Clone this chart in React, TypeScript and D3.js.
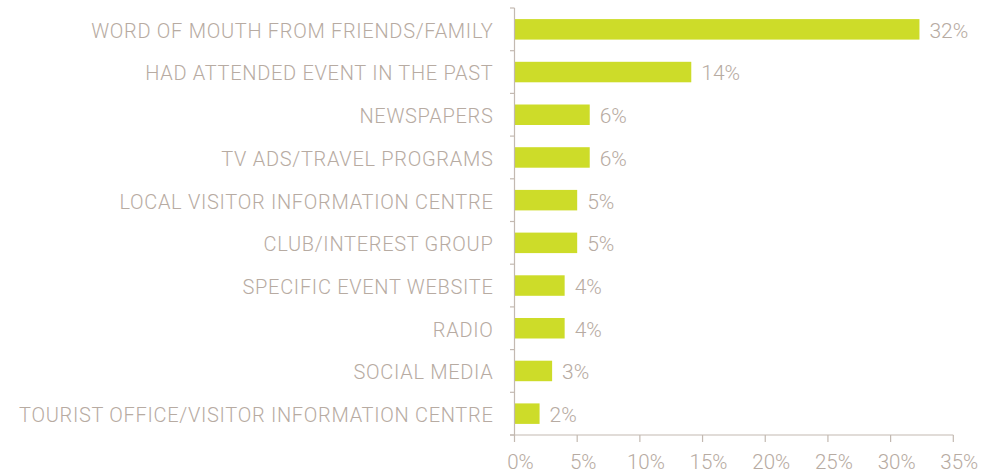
import React, { useEffect, useRef } from "react";
import * as d3 from "d3";

const categories = [
  "WORD OF MOUTH FROM FRIENDS/FAMILY",
  "HAD ATTENDED EVENT IN THE PAST",
  "NEWSPAPERS",
  "TV ADS/TRAVEL PROGRAMS",
  "LOCAL VISITOR INFORMATION CENTRE",
  "CLUB/INTEREST GROUP",
  "SPECIFIC EVENT WEBSITE",
  "RADIO",
  "SOCIAL MEDIA",
  "TOURIST OFFICE/VISITOR INFORMATION CENTRE",
];
const values = [32.3, 14.1, 6.0, 6.0, 5.0, 5.0, 4.0, 4.0, 3.0, 2.0];
const valueLabels = ["32%", "14%", "6%", "6%", "5%", "5%", "4%", "4%", "3%", "2%"];
const xTicks = [0, 5, 10, 15, 20, 25, 30, 35];

const W = 1007;
const H = 475;
const TEXT = "#b7aba2";
const AXIS = "#c3b9b1";
const BAR = "#cddc29";
const FONT = "Roboto, 'Liberation Sans', sans-serif";

export default function App() {
  const ref = useRef<SVGSVGElement | null>(null);
  useEffect(() => {
    const svg = d3.select(ref.current);
    svg.selectAll("*").remove();
    const left = 514.5;
    const right = 953.3;
    const top = 8;
    const bottom = 435;
    const x = d3.scaleLinear().domain([0, 35]).range([left, right]);
    const y = d3.scaleBand<string>().domain(categories).range([top, bottom]).paddingInner(0.52).paddingOuter(0.26);

    const g = svg.append("g");
    g.selectAll("rect.bar")
      .data(categories)
      .join("rect")
      .attr("class", "bar")
      .attr("x", x(0) + 0.5)
      .attr("y", (d) => y(d)!)
      .attr("width", (_, i) => x(values[i]) - x(0) - 0.5)
      .attr("height", y.bandwidth())
      .attr("fill", BAR);

    g.selectAll("text.val")
      .data(categories)
      .join("text")
      .attr("class", "val")
      .attr("x", (_, i) => x(values[i]) + 10)
      .attr("y", (d) => y(d)! + y.bandwidth() / 2)
      .attr("dy", "0.4em")
      .attr("fill", TEXT)
      .attr("font-family", FONT)
      .attr("font-weight", 300)
      .attr("font-size", 21)
      .text((_, i) => valueLabels[i]);

    g.selectAll("text.cat")
      .data(categories)
      .join("text")
      .attr("class", "cat")
      .attr("x", left - 21)
      .attr("y", (d) => y(d)! + y.bandwidth() / 2)
      .attr("dy", "0.42em")
      .attr("text-anchor", "end")
      .attr("fill", TEXT)
      .attr("font-family", FONT)
      .attr("font-weight", 300)
      .attr("font-size", 20)
      .attr("letter-spacing", 0.7)
      .text((d) => d);

    g.append("line")
      .attr("x1", left).attr("x2", left).attr("y1", top).attr("y2", bottom)
      .attr("stroke", AXIS).attr("stroke-width", 1.2);
    const step = (bottom - top) / categories.length;
    g.selectAll("line.ct")
      .data(d3.range(categories.length + 1))
      .join("line")
      .attr("class", "ct")
      .attr("x1", left - 4.5).attr("x2", left)
      .attr("y1", (i) => top + i * step).attr("y2", (i) => top + i * step)
      .attr("stroke", AXIS).attr("stroke-width", 1.2);

    g.append("line")
      .attr("x1", left - 4.5).attr("x2", right).attr("y1", bottom).attr("y2", bottom)
      .attr("stroke", AXIS).attr("stroke-width", 1.2);
    g.selectAll("line.xt")
      .data(xTicks)
      .join("line")
      .attr("class", "xt")
      .attr("x1", (d) => x(d)).attr("x2", (d) => x(d))
      .attr("y1", bottom).attr("y2", bottom + 7)
      .attr("stroke", AXIS).attr("stroke-width", 1.2);
    g.selectAll("text.xl")
      .data(xTicks)
      .join("text")
      .attr("class", "xl")
      .attr("x", (d) => x(d) + 6)
      .attr("y", 469)
      .attr("text-anchor", "middle")
      .attr("fill", TEXT)
      .attr("font-family", FONT)
      .attr("font-weight", 300)
      .attr("font-size", 20.5)
      .text((d) => d + "%");
  }, []);
  return (
    <svg ref={ref} width={W} height={H} style={{ position: "absolute", left: 0, top: 0, background: "#fff" }} />
  );
}
